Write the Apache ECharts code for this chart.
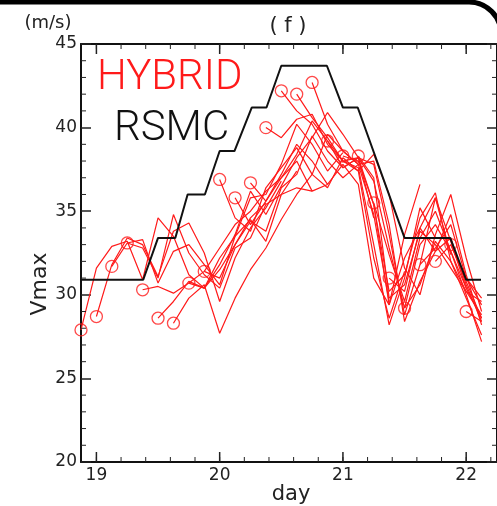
<!DOCTYPE html>
<html>
<head>
<meta charset="utf-8">
<script src="https://cdn.jsdelivr.net/npm/echarts@6/dist/echarts.min.js"></script>
<style>
  html, body { margin: 0; padding: 0; background: #fff; }
  #chart { width: 497px; height: 506px; }
</style>
</head>
<body>
<div id="chart"></div>
<script>
// x ticks (day) and y ticks (m/s)
const dayLabels = [19, 20, 21, 22];
const dayMinor = [19, 19.2, 19.4, 19.6, 19.8, 20, 20.2, 20.4, 20.6, 20.8, 21, 21.2, 21.4, 21.6, 21.8, 22, 22.2];
const vMinor = [21, 22, 23, 24, 26, 27, 28, 29, 31, 32, 33, 34, 36, 37, 38, 39, 41, 42, 43, 44];
const step = 0.125; // 3-hourly output

// RSMC best track (day, Vmax)
const rsmcDay = [18.875, 19.38, 19.5, 19.64, 19.74, 19.88, 20.0, 20.12, 20.26, 20.38, 20.5, 20.87, 21.0, 21.12, 21.5, 21.87, 22.0, 22.12];
const rsmcVmax = [30.9, 30.9, 33.4, 33.4, 36.0, 36.0, 38.6, 38.6, 41.2, 41.2, 43.7, 43.7, 41.2, 41.2, 33.4, 33.4, 30.9, 30.9];

// HYBRID runs: initial day and Vmax every 3 h from it
const initDays = [18.875, 19.0, 19.125, 19.25, 19.375, 19.5, 19.625, 19.75, 19.875, 20.0, 20.125, 20.25, 20.375,
  20.5, 20.625, 20.75, 20.875, 21.0, 21.125, 21.25, 21.375, 21.5, 21.625, 21.75, 21.875, 22.0];
const runs = [
  [27.9, 31.6, 32.9, 33.2, 30.9, 34.6, 33.5, 31.2, 30.4, 31.5, 33.0, 34.6, 35.5],
  [28.7, 31.8, 33.4, 33.0, 31.1, 33.8, 34.3, 32.5, 29.6, 32.2, 34.0, 35.2, 36.8],
  [31.7, 33.1, 33.3, 30.7, 32.6, 33.0, 31.8, 30.6, 33.5, 34.5, 33.2, 36.0, 37.4],
  [33.1, 32.8, 31.0, 34.8, 32.5, 31.2, 30.4, 32.8, 33.4, 35.4, 36.0, 36.4, 36.2],
  [30.3, 30.5, 30.1, 30.7, 31.4, 32.8, 34.2, 35.0, 36.2, 37.0, 38.0, 36.2, 36.6],
  [28.6, 29.6, 30.8, 30.4, 32.2, 33.5, 35.8, 36.0, 37.8, 40.2, 39.0, 37.4, 38.5],
  [28.3, 29.8, 30.6, 27.7, 29.8, 31.5, 32.8, 34.5, 36.0, 37.2, 39.6, 38.6, 37.8],
  [30.7, 30.4, 31.8, 33.6, 36.2, 34.8, 36.5, 38.2, 39.4, 40.9, 39.6, 38.2, 34.6],
  [31.4, 31.0, 33.0, 34.4, 33.8, 36.4, 37.2, 39.5, 38.0, 37.0, 37.8, 34.8, 29.6],
  [36.9, 34.6, 33.8, 36.4, 37.6, 38.8, 37.2, 36.4, 38.2, 37.4, 32.2, 28.6, 31.4],
  [35.8, 34.2, 35.6, 37.2, 39.0, 38.0, 36.6, 37.8, 36.6, 31.0, 29.4, 33.6, 36.6],
  [36.7, 35.6, 37.0, 38.4, 40.4, 39.2, 38.0, 37.6, 33.0, 28.2, 31.0, 35.2, 33.4],
  [40.0, 39.4, 40.5, 40.8, 39.0, 38.0, 38.2, 35.4, 29.4, 32.2, 34.0, 35.8, 32.4],
  [42.2, 41.0, 40.2, 38.6, 37.6, 38.2, 37.8, 33.6, 28.8, 31.8, 35.8, 33.2, 30.4],
  [42.0, 40.6, 39.4, 38.0, 37.4, 38.4, 36.0, 31.6, 30.0, 33.6, 36.0, 32.2, 29.0],
  [42.7, 40.2, 38.6, 37.8, 38.0, 34.2, 28.4, 30.8, 32.6, 34.8, 31.2, 28.2],
  [39.2, 37.6, 38.2, 36.8, 32.8, 29.2, 33.0, 34.2, 32.6, 30.4, 28.6],
  [38.3, 38.0, 35.4, 30.2, 31.2, 34.6, 36.1, 32.0, 29.8, 27.6],
  [38.3, 37.0, 29.8, 30.6, 33.8, 33.0, 31.6, 30.2, 28.8],
  [35.5, 32.4, 29.6, 33.4, 35.0, 32.6, 30.0, 27.2],
  [31.0, 30.2, 34.0, 32.6, 33.4, 30.6, 28.4],
  [29.2, 30.6, 33.2, 32.0, 30.2, 29.6],
  [31.8, 32.8, 34.2, 31.0, 29.4],
  [32.0, 33.0, 30.8, 28.6],
  [33.0, 31.0, 29.8],
  [29.0, 28.4]
];

const RED = '#ff1a1a';
const font = 'DejaVu Sans, Liberation Sans, sans-serif';
const X0 = 18.875, X1 = 22.25, Y0 = 20, Y1 = 45;

let myChart = echarts.init(document.getElementById('chart'));

const series = runs.map((r, i) => ({
  type: 'line',
  data: r.map((v, k) => [initDays[i] + k * step, v]),
  symbol: 'none',
  lineStyle: { color: RED, width: 1.2 },
  silent: true,
  z: 2
}));
series.push({
  type: 'scatter',
  data: runs.map((r, i) => [initDays[i], r[0]]),
  symbol: 'circle',
  symbolSize: 12,
  itemStyle: { color: 'rgba(255,255,255,0)', borderColor: RED, borderWidth: 1.3 },
  silent: true,
  z: 3
});
series.push({
  type: 'line',
  data: rsmcDay.map((d, i) => [d, rsmcVmax[i]]),
  symbol: 'none',
  lineStyle: { color: '#111', width: 2 },
  silent: true,
  z: 4
});

// inside ticks on all four sides: [value, length, 0 = day axis / 1 = Vmax axis]
const tickData = [].concat(
  dayLabels.map(d => [d, 10, 0]),
  dayMinor.map(d => [d, 5, 0]),
  vMinor.map(v => [v, 5, 1])
);
series.push({
  type: 'custom',
  data: tickData,
  silent: true,
  clip: false,
  z: 5,
  renderItem: function (params, api) {
    const v = api.value(0), len = api.value(1), kind = api.value(2);
    const st = { stroke: '#222', lineWidth: kind === 0 && len > 5 ? 1.5 : 1 };
    let a, b;
    if (kind === 0) {
      a = api.coord([v, Y0]); b = api.coord([v, Y1]);
      return { type: 'group', children: [
        { type: 'line', shape: { x1: a[0], y1: a[1], x2: a[0], y2: a[1] - len }, style: st },
        { type: 'line', shape: { x1: b[0], y1: b[1], x2: b[0], y2: b[1] + len }, style: st }
      ] };
    }
    a = api.coord([X0, v]); b = api.coord([X1, v]);
    return { type: 'group', children: [
      { type: 'line', shape: { x1: a[0], y1: a[1], x2: a[0] + len, y2: a[1] }, style: st },
      { type: 'line', shape: { x1: b[0], y1: b[1], x2: b[0] - len, y2: b[1] }, style: st }
    ] };
  }
});

function xAx(pos, labels) {
  return {
    type: 'value', position: pos, min: X0, max: X1,
    axisLine: { show: true, onZero: false, lineStyle: { color: '#111', width: 2 } },
    axisTick: { show: false },
    axisLabel: labels ? { show: true, customValues: dayLabels, margin: 5, color: '#222', fontSize: 17, fontFamily: font } : { show: false },
    splitLine: { show: false }
  };
}
function yAx(pos, labels) {
  return {
    type: 'value', position: pos, min: Y0, max: Y1, interval: 5,
    axisLine: { show: true, onZero: false, lineStyle: { color: '#111', width: 2 } },
    axisTick: { show: true, inside: true, length: 10, lineStyle: { color: '#222', width: 1.5 } },
    axisLabel: labels ? { show: true, margin: 4, color: '#222', fontSize: 17, fontFamily: font } : { show: false },
    splitLine: { show: false }
  };
}

myChart.setOption({
  animation: false,
  backgroundColor: '#fff',
  grid: { left: 81, right: -2, top: 44, bottom: 44 },
  xAxis: [xAx('bottom', true), xAx('top', false)],
  yAxis: [yAx('left', true), yAx('right', false)],
  series: series,
  graphic: [
    { type: 'rect', shape: { x: -50, y: 2, width: 551, height: 700, r: 32 }, style: { fill: 'none', stroke: '#000', lineWidth: 5 }, silent: true },
    { type: 'text', x: 48, y: 23, style: { text: '(m/s)', fill: '#222', fontSize: 18, fontFamily: font, textAlign: 'center', textVerticalAlign: 'middle' } },
    { type: 'text', x: 288, y: 27, style: { text: '( f )', fill: '#222', fontSize: 21, fontFamily: font, textAlign: 'center', textVerticalAlign: 'middle' } },
    { type: 'text', x: 291, y: 495, style: { text: 'day', fill: '#222', fontSize: 21, fontFamily: font, textAlign: 'center', textVerticalAlign: 'middle' } },
    { type: 'text', x: 40, y: 284, rotation: Math.PI / 2, style: { text: 'Vmax', fill: '#222', fontSize: 22, fontFamily: font, textAlign: 'center', textVerticalAlign: 'middle' } },
    { type: 'text', x: 97, y: 78, style: { text: 'HYBRID', fill: RED, fontSize: 42, fontWeight: 300, fontFamily: 'Roboto, Liberation Sans, sans-serif', textAlign: 'left', textVerticalAlign: 'middle' } },
    { type: 'text', x: 114, y: 129, style: { text: 'RSMC', fill: '#111', fontSize: 42, fontWeight: 300, fontFamily: 'Roboto, Liberation Sans, sans-serif', textAlign: 'left', textVerticalAlign: 'middle' } }
  ]
});
window.addEventListener('resize', () => { if (myChart) { myChart.resize(); } });
</script>
</body>
</html>
